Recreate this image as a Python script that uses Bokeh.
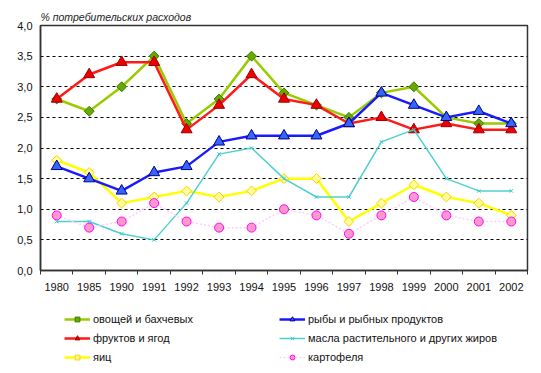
import math
from bokeh.plotting import figure
from bokeh.layouts import column
from bokeh.models import (Range1d, FixedTicker, Legend, LegendItem, Title)
from bokeh.embed import file_html
from bokeh.resources import INLINE

years = ["1980", "1985", "1990", "1991", "1992", "1993", "1994", "1995",
         "1996", "1997", "1998", "1999", "2000", "2001", "2002"]
ovoshchi = [2.8, 2.6, 3.0, 3.5, 2.4, 2.8, 3.5, 2.9, 2.7, 2.5, 2.9, 3.0, 2.5, 2.4, 2.4]
frukty = [2.8, 3.2, 3.4, 3.4, 2.3, 2.7, 3.2, 2.8, 2.7, 2.4, 2.5, 2.3, 2.4, 2.3, 2.3]
ryba = [1.7, 1.5, 1.3, 1.6, 1.7, 2.1, 2.2, 2.2, 2.2, 2.4, 2.9, 2.7, 2.5, 2.6, 2.4]
maslo = [0.8, 0.8, 0.6, 0.5, 1.1, 1.9, 2.0, 1.5, 1.2, 1.2, 2.1, 2.3, 1.5, 1.3, 1.3]
yaitsa = [1.8, 1.6, 1.1, 1.2, 1.3, 1.2, 1.3, 1.5, 1.5, 0.8, 1.1, 1.4, 1.2, 1.1, 0.9]
kartofel = [0.9, 0.7, 0.8, 1.1, 0.8, 0.7, 0.7, 1.0, 0.9, 0.6, 0.9, 1.2, 0.9, 0.8, 0.8]
y_ticks = [0.0, 0.5, 1.0, 1.5, 2.0, 2.5, 3.0, 3.5, 4.0]
y_tick_labels = ["0,0", "0,5", "1,0", "1,5", "2,0", "2,5", "3,0", "3,5", "4,0"]
title_text = "% потребительских расходов"

FONT = "Liberation Sans"
n = len(years)
xs = [i + 0.5 for i in range(n)]

p = figure(width=533, height=298, output_backend="svg", toolbar_location=None,
           x_range=Range1d(0, n), y_range=Range1d(0, 4.0),
           min_border_left=40, min_border_right=6, min_border_top=25,
           min_border_bottom=28)
p.background_fill_color = "white"
p.border_fill_color = "white"
p.outline_line_color = "#333333"
p.outline_line_width = 1.5

t = Title(text=title_text, text_font=FONT, text_font_size="10.5px",
          text_font_style="italic", text_color="#222222", align="left",
          offset=0, standoff=5)
p.add_layout(t, "above")

# axes
p.xaxis.ticker = FixedTicker(ticks=xs, minor_ticks=list(range(n + 1)))
p.xaxis.major_label_overrides = {x: y for x, y in zip(xs, years)}
p.xaxis.major_tick_out = 0
p.xaxis.major_tick_in = 0
p.xaxis.minor_tick_out = 4
p.xaxis.minor_tick_in = 0
p.xaxis.minor_tick_line_color = "#333333"
p.xaxis.axis_line_color = "#333333"
p.xaxis.axis_line_width = 1.5
p.xaxis.major_label_standoff = 8
p.xaxis.major_label_text_font = FONT
p.xaxis.major_label_text_font_size = "11px"
p.xaxis.major_label_text_color = "#111111"

p.yaxis.ticker = FixedTicker(ticks=y_ticks)
p.yaxis.major_label_overrides = {v: s for v, s in zip(y_ticks, y_tick_labels)}
p.yaxis.major_tick_out = 0
p.yaxis.major_tick_in = 0
p.yaxis.minor_tick_line_color = None
p.yaxis.axis_line_color = "#333333"
p.yaxis.axis_line_width = 1.5
p.yaxis.major_label_standoff = 8
p.yaxis.major_label_text_font = FONT
p.yaxis.major_label_text_font_size = "11px"
p.yaxis.major_label_text_color = "#111111"

p.xgrid.grid_line_color = None
p.ygrid.ticker = FixedTicker(ticks=y_ticks[1:-1])
p.ygrid.grid_line_color = "black"
p.ygrid.grid_line_dash = "3 3"
p.ygrid.grid_line_width = 1

rot = math.pi / 4
series = [
    ("овощей и бахчевых", ovoshchi, dict(color="#99CC00", width=2.5, dash="solid"),
     dict(marker="square", size=7, angle=rot, fill="#66AA00", line="#3A7A00")),
    ("фруктов и ягод", frukty, dict(color="#FF1A1A", width=2.5, dash="solid"),
     dict(marker="triangle", size=11, angle=0, fill="#EE0000", line="#990000")),
    ("яиц", yaitsa, dict(color="#FFFF00", width=2.5, dash="solid"),
     dict(marker="square", size=7, angle=rot, fill="#FFFF99", line="#FFCC00")),
    ("рыбы и рыбных продуктов", ryba, dict(color="#1A1AFF", width=2.5, dash="solid"),
     dict(marker="triangle", size=11, angle=0, fill="#3366FF", line="#000080")),
    ("масла растительного и других жиров", maslo, dict(color="#4FD0D0", width=1.5, dash="solid"),
     dict(marker="x", size=5, angle=0, fill="#33CCCC", line="#33CCCC")),
    ("картофеля", kartofel, dict(color="#FFCCFF", width=1.5, dash="2 2"),
     dict(marker="circle", size=9, angle=0, fill="#FF99CC", line="#FF00FF")),
]

# legend strip below the chart: same series drawn off-view, only the legend shows
lf = figure(width=533, height=67, output_backend="svg", toolbar_location=None,
            x_range=Range1d(0, n), y_range=Range1d(100, 101),
            x_axis_location=None, y_axis_location=None,
            min_border=0, outline_line_color=None)
lf.grid.visible = False

items = {}
for label, vals, ls, ms in series:
    p.line(xs, vals, line_color=ls["color"], line_width=ls["width"], line_dash=ls["dash"])
    p.scatter(xs, vals, marker=ms["marker"], size=ms["size"], angle=ms["angle"],
              fill_color=ms["fill"], line_color=ms["line"], line_width=1)
    r1 = lf.line(xs, vals, line_color=ls["color"], line_width=ls["width"], line_dash=ls["dash"])
    r2 = lf.scatter(xs, vals, marker=ms["marker"], size=ms["size"] - 2, angle=ms["angle"],
                    fill_color=ms["fill"], line_color=ms["line"], line_width=1)
    items[label] = [r1, r2]

order = ["овощей и бахчевых", "фруктов и ягод", "яиц",
         "рыбы и рыбных продуктов", "масла растительного и других жиров", "картофеля"]
legend = Legend(items=[LegendItem(label=k, renderers=items[k]) for k in order],
                ncols=2, location=(24, 1),
                label_text_font=FONT, label_text_font_size="11px",
                label_text_color="#111111", label_text_baseline="middle",
                glyph_width=26, glyph_height=12, label_standoff=3,
                label_width=181, label_height=14, spacing=5, padding=0, margin=0,
                border_line_color=None, background_fill_alpha=0)
lf.add_layout(legend, "center")

layout = column(p, lf, spacing=0)
open("out.html", "w").write(file_html(layout, INLINE))
